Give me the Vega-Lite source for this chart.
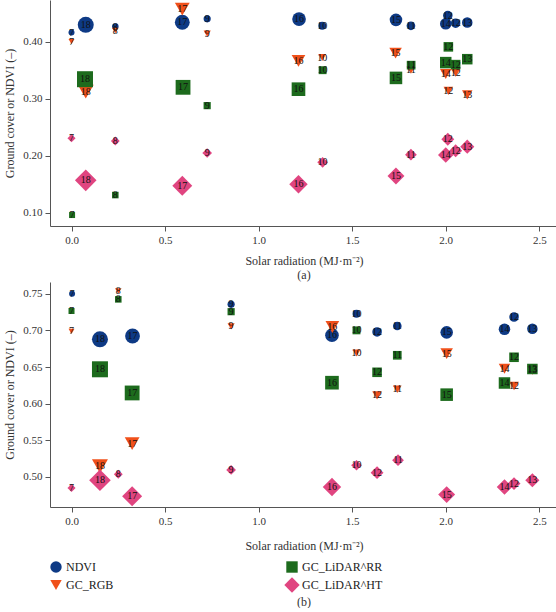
{
  "$schema": "https://vega.github.io/schema/vega-lite/v6.json",
  "padding": {"left": 3, "top": 0, "right": 0, "bottom": 0},
  "background": "white",
  "spacing": 1,
  "config": {
    "view": {"stroke": null},
    "font": "Liberation Serif",
    "axis": {"grid": false, "domainColor": "#555", "tickColor": "#555", "tickSize": 5, "labelColor": "#333", "labelFontSize": 11, "labelFont": "Liberation Serif", "titleFont": "Liberation Serif", "titleFontSize": 12, "titleFontWeight": "normal", "titleColor": "#333", "labelPadding": 3},
    "title": {"font": "Liberation Serif", "fontSize": 12, "fontWeight": "normal", "color": "#333"}
  },
  "resolve": {"scale": {"x": "independent", "y": "independent"}, "legend": {"color": "independent", "shape": "independent"}},
  "datasets": {
    "pts": [
      {"panel": "a", "series": "NDVI", "radiation": 0.0, "value": 0.416, "day": 7},
      {"panel": "a", "series": "NDVI", "radiation": 0.076, "value": 0.4295, "day": 18},
      {"panel": "a", "series": "NDVI", "radiation": 0.234, "value": 0.4265, "day": 8},
      {"panel": "a", "series": "NDVI", "radiation": 0.592, "value": 0.434, "day": 17},
      {"panel": "a", "series": "NDVI", "radiation": 0.725, "value": 0.44, "day": 9},
      {"panel": "a", "series": "NDVI", "radiation": 1.216, "value": 0.4395, "day": 16},
      {"panel": "a", "series": "NDVI", "radiation": 1.34, "value": 0.4278, "day": 10},
      {"panel": "a", "series": "NDVI", "radiation": 1.734, "value": 0.4382, "day": 15},
      {"panel": "a", "series": "NDVI", "radiation": 1.814, "value": 0.4278, "day": 11},
      {"panel": "a", "series": "NDVI", "radiation": 2.011, "value": 0.4458, "day": 12},
      {"panel": "a", "series": "NDVI", "radiation": 2.0, "value": 0.4312, "day": 14},
      {"panel": "a", "series": "NDVI", "radiation": 2.053, "value": 0.4324, "day": 12},
      {"panel": "a", "series": "NDVI", "radiation": 2.115, "value": 0.4335, "day": 13},
      {"panel": "a", "series": "GC_RGB", "radiation": 0.0, "value": 0.4, "day": 7},
      {"panel": "a", "series": "GC_RGB", "radiation": 0.234, "value": 0.4195, "day": 8},
      {"panel": "a", "series": "GC_RGB", "radiation": 0.076, "value": 0.3125, "day": 18},
      {"panel": "a", "series": "GC_RGB", "radiation": 0.592, "value": 0.457, "day": 17},
      {"panel": "a", "series": "GC_RGB", "radiation": 0.725, "value": 0.414, "day": 9},
      {"panel": "a", "series": "GC_RGB", "radiation": 1.213, "value": 0.3663, "day": 16},
      {"panel": "a", "series": "GC_RGB", "radiation": 1.34, "value": 0.3722, "day": 10},
      {"panel": "a", "series": "GC_RGB", "radiation": 1.732, "value": 0.3798, "day": 15},
      {"panel": "a", "series": "GC_RGB", "radiation": 1.814, "value": 0.3505, "day": 11},
      {"panel": "a", "series": "GC_RGB", "radiation": 2.0, "value": 0.3435, "day": 14},
      {"panel": "a", "series": "GC_RGB", "radiation": 2.053, "value": 0.3458, "day": 12},
      {"panel": "a", "series": "GC_RGB", "radiation": 2.014, "value": 0.3137, "day": 12},
      {"panel": "a", "series": "GC_RGB", "radiation": 2.115, "value": 0.3067, "day": 13},
      {"panel": "a", "series": "GC_LiDAR^RR", "radiation": 0.072, "value": 0.3342, "day": 18},
      {"panel": "a", "series": "GC_LiDAR^RR", "radiation": 0.596, "value": 0.32, "day": 17},
      {"panel": "a", "series": "GC_LiDAR^RR", "radiation": 0.725, "value": 0.2879, "day": 9},
      {"panel": "a", "series": "GC_LiDAR^RR", "radiation": 0.234, "value": 0.1312, "day": 8},
      {"panel": "a", "series": "GC_LiDAR^RR", "radiation": 0.003, "value": 0.0962, "day": 7},
      {"panel": "a", "series": "GC_LiDAR^RR", "radiation": 1.213, "value": 0.3167, "day": 16},
      {"panel": "a", "series": "GC_LiDAR^RR", "radiation": 1.342, "value": 0.35, "day": 10},
      {"panel": "a", "series": "GC_LiDAR^RR", "radiation": 1.734, "value": 0.3365, "day": 15},
      {"panel": "a", "series": "GC_LiDAR^RR", "radiation": 1.815, "value": 0.3588, "day": 11},
      {"panel": "a", "series": "GC_LiDAR^RR", "radiation": 2.014, "value": 0.3909, "day": 12},
      {"panel": "a", "series": "GC_LiDAR^RR", "radiation": 2.0, "value": 0.3633, "day": 14},
      {"panel": "a", "series": "GC_LiDAR^RR", "radiation": 2.053, "value": 0.3598, "day": 12},
      {"panel": "a", "series": "GC_LiDAR^RR", "radiation": 2.115, "value": 0.3693, "day": 13},
      {"panel": "a", "series": "GC_LiDAR^HT", "radiation": 0.0, "value": 0.2307, "day": 7},
      {"panel": "a", "series": "GC_LiDAR^HT", "radiation": 0.234, "value": 0.226, "day": 8},
      {"panel": "a", "series": "GC_LiDAR^HT", "radiation": 0.076, "value": 0.157, "day": 18},
      {"panel": "a", "series": "GC_LiDAR^HT", "radiation": 0.592, "value": 0.1475, "day": 17},
      {"panel": "a", "series": "GC_LiDAR^HT", "radiation": 0.725, "value": 0.2049, "day": 9},
      {"panel": "a", "series": "GC_LiDAR^HT", "radiation": 1.213, "value": 0.15, "day": 16},
      {"panel": "a", "series": "GC_LiDAR^HT", "radiation": 1.342, "value": 0.1886, "day": 10},
      {"panel": "a", "series": "GC_LiDAR^HT", "radiation": 1.734, "value": 0.1646, "day": 15},
      {"panel": "a", "series": "GC_LiDAR^HT", "radiation": 1.814, "value": 0.2019, "day": 11},
      {"panel": "a", "series": "GC_LiDAR^HT", "radiation": 2.011, "value": 0.2289, "day": 12},
      {"panel": "a", "series": "GC_LiDAR^HT", "radiation": 2.0, "value": 0.2014, "day": 14},
      {"panel": "a", "series": "GC_LiDAR^HT", "radiation": 2.053, "value": 0.2089, "day": 12},
      {"panel": "a", "series": "GC_LiDAR^HT", "radiation": 2.115, "value": 0.216, "day": 13},
      {"panel": "b", "series": "NDVI", "radiation": 0.003, "value": 0.75, "day": 7},
      {"panel": "b", "series": "NDVI", "radiation": 0.152, "value": 0.6878, "day": 18},
      {"panel": "b", "series": "NDVI", "radiation": 0.326, "value": 0.6923, "day": 17},
      {"panel": "b", "series": "NDVI", "radiation": 0.853, "value": 0.7355, "day": 9},
      {"panel": "b", "series": "NDVI", "radiation": 1.523, "value": 0.7227, "day": 10},
      {"panel": "b", "series": "NDVI", "radiation": 1.392, "value": 0.6933, "day": 16},
      {"panel": "b", "series": "NDVI", "radiation": 1.633, "value": 0.6978, "day": 12},
      {"panel": "b", "series": "NDVI", "radiation": 1.741, "value": 0.706, "day": 11},
      {"panel": "b", "series": "NDVI", "radiation": 2.005, "value": 0.6973, "day": 15},
      {"panel": "b", "series": "NDVI", "radiation": 2.365, "value": 0.7182, "day": 12},
      {"panel": "b", "series": "NDVI", "radiation": 2.314, "value": 0.7014, "day": 14},
      {"panel": "b", "series": "NDVI", "radiation": 2.463, "value": 0.7023, "day": 13},
      {"panel": "b", "series": "GC_RGB", "radiation": 0.0, "value": 0.6987, "day": 7},
      {"panel": "b", "series": "GC_RGB", "radiation": 0.25, "value": 0.7537, "day": 8},
      {"panel": "b", "series": "GC_RGB", "radiation": 0.152, "value": 0.5146, "day": 18},
      {"panel": "b", "series": "GC_RGB", "radiation": 0.324, "value": 0.5455, "day": 17},
      {"panel": "b", "series": "GC_RGB", "radiation": 0.853, "value": 0.7055, "day": 9},
      {"panel": "b", "series": "GC_RGB", "radiation": 1.394, "value": 0.7046, "day": 16},
      {"panel": "b", "series": "GC_RGB", "radiation": 1.523, "value": 0.6691, "day": 10},
      {"panel": "b", "series": "GC_RGB", "radiation": 1.633, "value": 0.6114, "day": 12},
      {"panel": "b", "series": "GC_RGB", "radiation": 1.741, "value": 0.6196, "day": 11},
      {"panel": "b", "series": "GC_RGB", "radiation": 2.005, "value": 0.6682, "day": 15},
      {"panel": "b", "series": "GC_RGB", "radiation": 2.314, "value": 0.6477, "day": 14},
      {"panel": "b", "series": "GC_RGB", "radiation": 2.365, "value": 0.6241, "day": 12},
      {"panel": "b", "series": "GC_RGB", "radiation": 2.463, "value": 0.6455, "day": 13},
      {"panel": "b", "series": "GC_LiDAR^RR", "radiation": 0.0, "value": 0.7264, "day": 7},
      {"panel": "b", "series": "GC_LiDAR^RR", "radiation": 0.25, "value": 0.7423, "day": 8},
      {"panel": "b", "series": "GC_LiDAR^RR", "radiation": 0.152, "value": 0.6469, "day": 18},
      {"panel": "b", "series": "GC_LiDAR^RR", "radiation": 0.324, "value": 0.6146, "day": 17},
      {"panel": "b", "series": "GC_LiDAR^RR", "radiation": 0.853, "value": 0.7255, "day": 9},
      {"panel": "b", "series": "GC_LiDAR^RR", "radiation": 1.523, "value": 0.7, "day": 10},
      {"panel": "b", "series": "GC_LiDAR^RR", "radiation": 1.392, "value": 0.6286, "day": 16},
      {"panel": "b", "series": "GC_LiDAR^RR", "radiation": 1.633, "value": 0.6428, "day": 12},
      {"panel": "b", "series": "GC_LiDAR^RR", "radiation": 1.741, "value": 0.666, "day": 11},
      {"panel": "b", "series": "GC_LiDAR^RR", "radiation": 2.005, "value": 0.6123, "day": 15},
      {"panel": "b", "series": "GC_LiDAR^RR", "radiation": 2.365, "value": 0.6633, "day": 12},
      {"panel": "b", "series": "GC_LiDAR^RR", "radiation": 2.314, "value": 0.6282, "day": 14},
      {"panel": "b", "series": "GC_LiDAR^RR", "radiation": 2.463, "value": 0.6473, "day": 13},
      {"panel": "b", "series": "GC_LiDAR^HT", "radiation": 0.0, "value": 0.485, "day": 7},
      {"panel": "b", "series": "GC_LiDAR^HT", "radiation": 0.25, "value": 0.5037, "day": 8},
      {"panel": "b", "series": "GC_LiDAR^HT", "radiation": 0.152, "value": 0.4955, "day": 18},
      {"panel": "b", "series": "GC_LiDAR^HT", "radiation": 0.324, "value": 0.4737, "day": 17},
      {"panel": "b", "series": "GC_LiDAR^HT", "radiation": 0.853, "value": 0.5096, "day": 9},
      {"panel": "b", "series": "GC_LiDAR^HT", "radiation": 1.523, "value": 0.516, "day": 10},
      {"panel": "b", "series": "GC_LiDAR^HT", "radiation": 1.392, "value": 0.4864, "day": 16},
      {"panel": "b", "series": "GC_LiDAR^HT", "radiation": 1.633, "value": 0.5059, "day": 12},
      {"panel": "b", "series": "GC_LiDAR^HT", "radiation": 1.745, "value": 0.5228, "day": 11},
      {"panel": "b", "series": "GC_LiDAR^HT", "radiation": 2.005, "value": 0.4759, "day": 15},
      {"panel": "b", "series": "GC_LiDAR^HT", "radiation": 2.314, "value": 0.4864, "day": 14},
      {"panel": "b", "series": "GC_LiDAR^HT", "radiation": 2.365, "value": 0.4909, "day": 12},
      {"panel": "b", "series": "GC_LiDAR^HT", "radiation": 2.463, "value": 0.4955, "day": 13}
    ]
  },
  "vconcat": [
    {
      "width": 508,
      "height": 226,
      "title": {"text": "(a)", "orient": "bottom", "frame": "group", "anchor": "middle", "offset": 4},
      "data": {"name": "pts"},
      "transform": [{"filter": "datum.panel === 'a'"}],
      "layer": [
        {
          "mark": {"type": "point", "filled": true, "opacity": 1},
          "encoding": {
            "x": {"field": "radiation", "type": "quantitative", "scale": {"domain": [-0.115, 2.6], "nice": false, "zero": false}, "axis": {"title": "Solar radiation (MJ·m⁻²)", "values": [0, 0.5, 1, 1.5, 2, 2.5], "format": ".1f", "titlePadding": 10}},
            "y": {"field": "value", "type": "quantitative", "scale": {"domain": [0.077, 0.473], "nice": false, "zero": false}, "axis": {"title": "Ground cover or NDVI (–)", "values": [0.1, 0.15, 0.2, 0.25, 0.3, 0.35, 0.4, 0.45], "format": ".2f", "titlePadding": 6}},
            "color": {"field": "series", "type": "nominal", "scale": {"domain": ["NDVI", "GC_LiDAR^RR", "GC_RGB", "GC_LiDAR^HT"], "range": ["#0e3a85", "#1d6b1d", "#f0501a", "#e04580"]}, "legend": null},
            "shape": {"field": "series", "type": "nominal", "scale": {"domain": ["NDVI", "GC_LiDAR^RR", "GC_RGB", "GC_LiDAR^HT"], "range": ["circle", "square", "triangle-down", "M-1.35,0L0,-1.35L1.35,0L0,1.35Z"]}, "legend": null},
            "size": {"field": "day", "type": "quantitative", "scale": {"type": "pow", "exponent": 3, "domain": [7, 18], "range": [36, 256]}, "legend": null}
          }
        },
        {
          "mark": {"type": "text", "font": "Liberation Serif", "fontSize": 10, "color": "#111"},
          "encoding": {
            "x": {"field": "radiation", "type": "quantitative"},
            "y": {"field": "value", "type": "quantitative"},
            "text": {"field": "day", "type": "nominal"}
          }
        }
      ]
    },
    {
      "width": 508,
      "height": 225,
      "title": {"text": "(b)", "orient": "bottom", "frame": "group", "anchor": "middle", "offset": 4},
      "data": {"name": "pts"},
      "transform": [{"filter": "datum.panel === 'b'"}],
      "layer": [
        {
          "mark": {"type": "point", "filled": true, "opacity": 1},
          "encoding": {
            "x": {"field": "radiation", "type": "quantitative", "scale": {"domain": [-0.115, 2.6], "nice": false, "zero": false}, "axis": {"title": "Solar radiation (MJ·m⁻²)", "values": [0, 0.5, 1, 1.5, 2, 2.5], "format": ".1f", "titlePadding": 14}},
            "y": {"field": "value", "type": "quantitative", "scale": {"domain": [0.459, 0.766], "nice": false, "zero": false}, "axis": {"title": "Ground cover or NDVI (–)", "values": [0.5, 0.55, 0.6, 0.65, 0.7, 0.75], "format": ".2f", "titlePadding": 6}},
            "color": {"field": "series", "type": "nominal", "legend": {"title": null, "orient": "bottom", "columns": 2, "columnPadding": 170, "rowPadding": 4, "symbolSize": 130, "labelFontSize": 12, "labelFont": "Liberation Serif", "labelColor": "#222", "symbolStrokeWidth": 0, "offset": 10}},
            "shape": {"field": "series", "type": "nominal", "legend": {"title": null, "orient": "bottom", "columns": 2, "columnPadding": 170, "rowPadding": 4, "symbolSize": 130, "labelFontSize": 12, "labelFont": "Liberation Serif", "labelColor": "#222", "symbolStrokeWidth": 0, "offset": 10}},
            "size": {"field": "day", "type": "quantitative", "legend": null}
          }
        },
        {
          "mark": {"type": "text", "font": "Liberation Serif", "fontSize": 10, "color": "#111"},
          "encoding": {
            "x": {"field": "radiation", "type": "quantitative"},
            "y": {"field": "value", "type": "quantitative"},
            "text": {"field": "day", "type": "nominal"}
          }
        }
      ]
    }
  ]
}
